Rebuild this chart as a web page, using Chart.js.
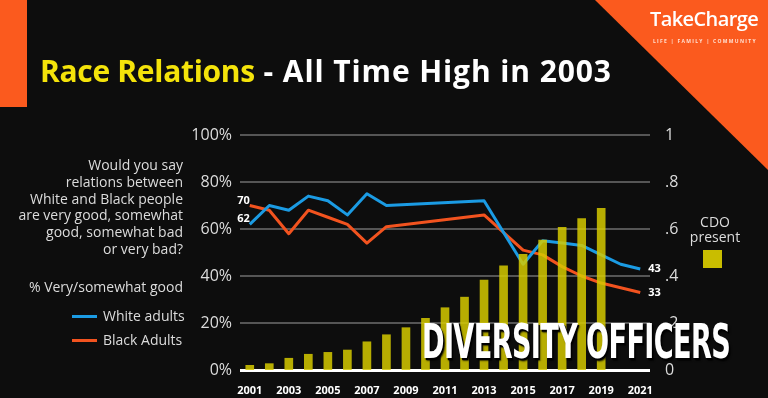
<!DOCTYPE html>
<html>
<head>
<meta charset="utf-8">
<script src="https://cdn.jsdelivr.net/npm/chart.js@4.4.1/dist/chart.umd.min.js"></script>
<style>
  html, body { margin: 0; padding: 0; }
  body { width: 768px; height: 398px; background: #0d0d0d; position: relative; overflow: hidden; font-family: 'Open Sans', sans-serif; }
  #myChart { position: absolute; left: 0; top: 0; }
  .abs { position: absolute; white-space: nowrap; }
  .stripe { left: 0; top: 0; width: 27px; height: 107px; background: #fb5a1e; }
  .corner { left: 595px; top: 0; width: 173px; height: 170px; background: #fb5a1e; clip-path: polygon(0 0, 100% 0, 100% 100%); }
  .title { left: 40px; top: 56px; font-size: 30px; line-height: 30px; font-weight: 700; color: #fff; letter-spacing: 0.9px; }
  .title span { color: #f4e30a; letter-spacing: -0.3px; }
  .brand { left: 650px; top: 9px; font-size: 20px; line-height: 20px; font-weight: 600; color: #fff; letter-spacing: -0.6px; }
  .tag { left: 653px; top: 38px; font-size: 5px; line-height: 6px; font-weight: 700; color: #ffe0d2; letter-spacing: 1.3px; }
  .question { right: 585px; top: 157px; font-size: 14px; line-height: 16.8px; color: #dcdcdc; text-align: right; }
  .pct { right: 585px; top: 278px; font-size: 14px; line-height: 17px; color: #dcdcdc; }
  .leg { left: 103px; font-size: 14px; line-height: 17px; color: #dcdcdc; }
  .legline { left: 72px; width: 25px; height: 3px; }
  .cdo { left: 675px; width: 80px; top: 214px; font-size: 14px; line-height: 15px; color: #dcdcdc; text-align: center; }
  .cdobox { left: 703px; top: 250px; width: 19px; height: 18px; background: #c9bd00; }
  .big { left: 422px; top: 317px; font-family: 'Liberation Sans Narrow', 'DejaVu Sans Condensed', sans-serif; font-weight: 700; font-size: 48px; line-height: 48px; color: #fff; letter-spacing: -1px; transform-origin: 0 0; text-shadow: 2px 2px 0 #000, 3px 3px 2px rgba(0,0,0,.7); }
</style>
</head>
<body>
<canvas id="myChart" width="768" height="398"></canvas>

<div class="abs stripe"></div>
<div class="abs corner"></div>
<div class="abs brand">TakeCharge</div>
<div class="abs tag">LIFE | FAMILY | COMMUNITY</div>
<div class="abs title"><span>Race Relations</span> - All Time High in 2003</div>

<div class="abs question">Would you say<br>relations between<br>White and Black people<br>are very good, somewhat<br>good, somewhat bad<br>or very bad?</div>
<div class="abs pct">% Very/somewhat good</div>
<div class="abs legline" style="top:315px;background:#1b9be3"></div>
<div class="abs leg" style="top:307px">White adults</div>
<div class="abs legline" style="top:339px;background:#f2531f"></div>
<div class="abs leg" style="top:331px">Black Adults</div>

<div class="abs cdo">CDO<br>present</div>
<div class="abs cdobox"></div>

<div class="abs big" id="big">DIVERSITY OFFICERS</div>

<script>
  // Datos
  const years = ['2001','2002','2003','2004','2005','2006','2007','2008','2009','2010','2011',
    '2012','2013','2014','2015','2016','2017','2018','2019','2020','2021'];
  const whiteAdults = [62, 70, 68, 74, 72, 66, 75, 70, null, null, null, null, 72, null, 45, 55, 54, 53, 49, 45, 43];
  const blackAdults = [70, 68, 58, 68, 65, 62, 54, 61, null, null, null, null, 66, null, 51, 49, 44, 40, 37, 35, 33];
  const cdoPresent = [0.02, 0.027, 0.05, 0.067, 0.075, 0.085, 0.12, 0.15, 0.18, 0.22, 0.265,
    0.31, 0.383, 0.443, 0.492, 0.553, 0.607, 0.644, 0.688, null, null];
  const pctTicks = [0, 20, 40, 60, 80, 100];
  const shareTicks = ['0', '.2', '.4', '.6', '.8', '1'];

  // ajustar el titulo grande al ancho
  const big = document.getElementById('big');
  big.style.transform = 'scaleX(' + (308 / big.offsetWidth) + ')';

  // etiquetas al principio y al final de las lineas
  const endLabels = {
    id: 'endLabels',
    afterDatasetsDraw(chart) {
      const ctx = chart.ctx;
      ctx.save();
      ctx.font = 'bold 11px "Open Sans"';
      ctx.fillStyle = '#ffffff';
      ctx.textBaseline = 'middle';
      [1, 2].forEach(i => {
        const ds = chart.data.datasets[i];
        const pts = chart.getDatasetMeta(i).data;
        const first = pts[0], last = pts[pts.length - 1];
        ctx.textAlign = 'right';
        ctx.fillText(ds.data[0], first.x, first.y - 5);
        ctx.textAlign = 'left';
        ctx.fillText(ds.data[ds.data.length - 1], last.x + 8, last.y);
      });
      ctx.restore();
    }
  };

  const ctx = document.getElementById('myChart').getContext('2d');
  const myChart = new Chart(ctx, {
    type: 'bar',
    data: {
      labels: years,
      datasets: [{
        label: 'CDO present',
        data: cdoPresent,
        yAxisID: 'y1',
        backgroundColor: 'rgba(214, 202, 0, 0.85)',
        barThickness: 8,
        order: 0
      }, {
        type: 'line',
        label: 'White adults',
        data: whiteAdults,
        yAxisID: 'y',
        borderColor: '#1b9be3',
        borderWidth: 3,
        borderJoinStyle: 'round',
        pointRadius: 0,
        tension: 0,
        spanGaps: true,
        order: 1
      }, {
        type: 'line',
        label: 'Black Adults',
        data: blackAdults,
        yAxisID: 'y',
        borderColor: '#f2531f',
        borderWidth: 3,
        borderJoinStyle: 'round',
        pointRadius: 0,
        tension: 0,
        spanGaps: true,
        order: 2
      }]
    },
    options: {
      responsive: false,
      animation: false,
      layout: { padding: { top: 135, left: 0, right: 0, bottom: 0 } },
      plugins: { legend: { display: false }, tooltip: { enabled: false } },
      scales: {
        x: {
          grid: { display: false },
          border: { display: false },
          afterFit: s => { s.height = 28; },
          ticks: {
            autoSkip: false,
            maxRotation: 0,
            padding: 6,
            color: '#ffffff',
            font: { family: 'Open Sans', size: 11, weight: 'bold' },
            callback: (v, i) => i % 2 === 0 ? years[i] : ''
          }
        },
        y: {
          position: 'left',
          min: 0,
          max: 100,
          afterFit: s => { s.width = 240; },
          afterBuildTicks: s => { s.ticks = pctTicks.map(v => ({ value: v })); },
          border: { display: false },
          grid: {
            drawTicks: false,
            color: c => c.tick.value === 0 ? '#ffffff' : '#555555',
            lineWidth: c => c.tick.value === 0 ? 3 : 2
          },
          ticks: {
            padding: 8,
            color: '#dcdcdc',
            font: { family: 'Open Sans', size: 16 },
            callback: v => v + '%'
          }
        },
        y1: {
          position: 'right',
          min: 0,
          max: 1,
          afterFit: s => { s.width = 118; },
          afterBuildTicks: s => { s.ticks = shareTicks.map((t, i) => ({ value: i / 5 })); },
          border: { display: false },
          grid: { display: false },
          ticks: {
            padding: 7,
            color: '#dcdcdc',
            font: { family: 'Open Sans', size: 16 },
            callback: (v, i) => shareTicks[i]
          }
        }
      }
    },
    plugins: [endLabels]
  });
</script>
</body>
</html>
